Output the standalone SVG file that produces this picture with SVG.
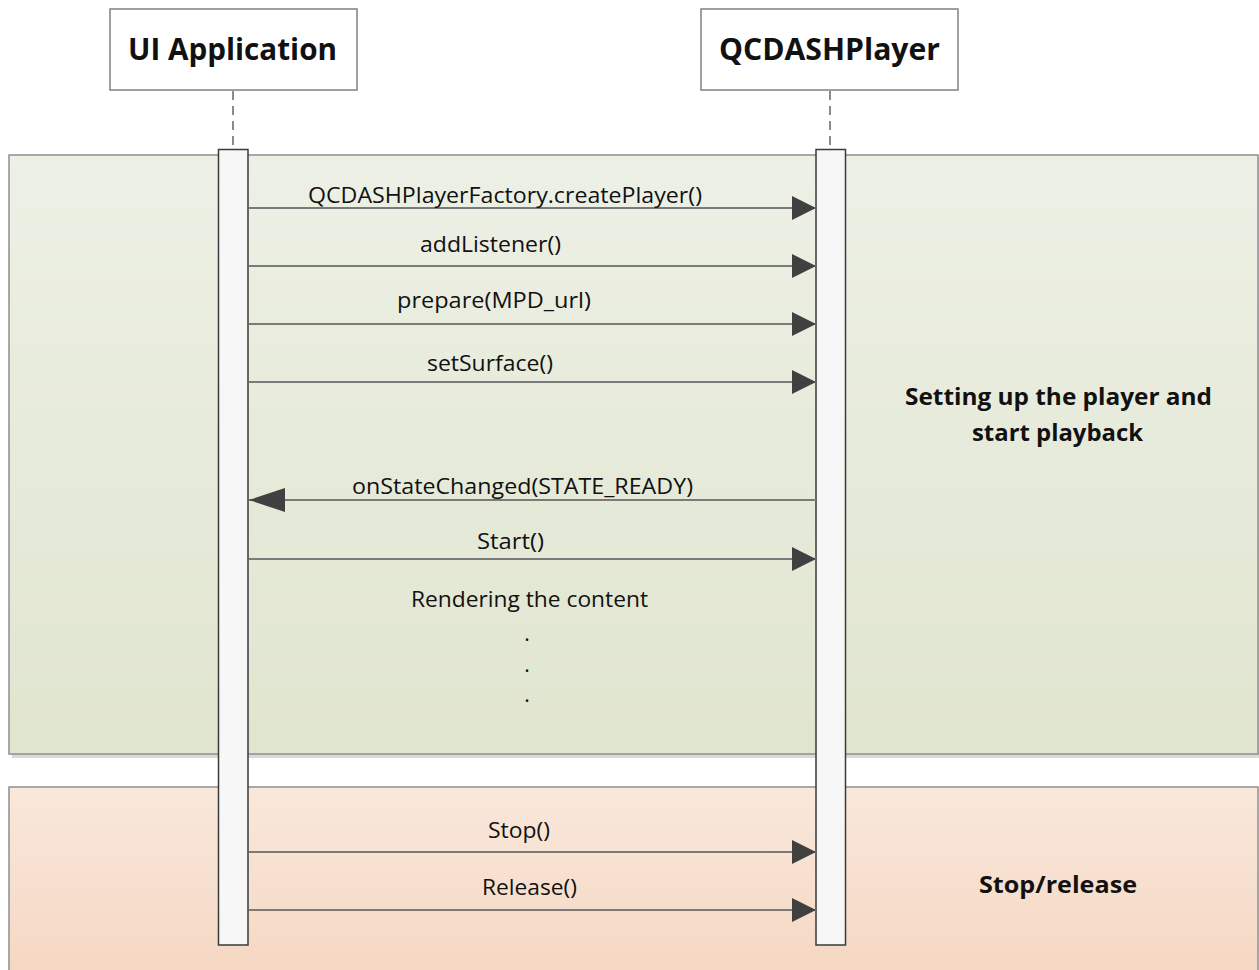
<svg xmlns="http://www.w3.org/2000/svg" width="1259" height="970" viewBox="0 0 1259 970">
<defs>
<linearGradient id="gGreen" x1="0" y1="0" x2="0" y2="1">
<stop offset="0" stop-color="#edf0e5"/>
<stop offset="1" stop-color="#e0e5cf"/>
</linearGradient>
<linearGradient id="gOrange" x1="0" y1="0" x2="0" y2="1">
<stop offset="0" stop-color="#f9e8dc"/>
<stop offset="1" stop-color="#f5d7c2"/>
</linearGradient>
<marker id="arrR" markerUnits="userSpaceOnUse" viewBox="0 0 24 24" refX="24" refY="12" markerWidth="24" markerHeight="24" orient="auto">
<path d="M0,0 L24,12 L0,24 Z" fill="#404040"/>
</marker>
<marker id="arrL" markerUnits="userSpaceOnUse" viewBox="0 0 36 24" refX="36" refY="12" markerWidth="36" markerHeight="24" orient="auto">
<path d="M0,0 L36,12 L0,24 Z" fill="#404040"/>
</marker>
</defs>
<style>
.panel{stroke:#8f8f8f;stroke-width:1.5}
.shadow{fill:#d9d9d9}
.hbox{fill:#ffffff;stroke:#808080;stroke-width:1.5}
.life{stroke:#8a8a8a;stroke-width:2;stroke-dasharray:9,6;fill:none}
.bar{fill:#f7f7f7;stroke:#3a3a3a;stroke-width:1.5}
.msg{stroke:#7a7a7a;stroke-width:2;fill:none}
.fwd{marker-end:url(#arrR)}
.back{marker-end:url(#arrL)}
.t{font-family:"Open Sans","Liberation Sans",sans-serif;font-size:21px;fill:#111;text-anchor:middle}
.h{font-family:"Open Sans","Liberation Sans",sans-serif;font-size:31px;font-weight:bold;fill:#111;text-anchor:middle}
.b{font-family:"Open Sans","Liberation Sans",sans-serif;font-size:23px;font-weight:bold;fill:#111;text-anchor:middle}
</style>
<rect width="1259" height="970" fill="#ffffff"/>

<g id="panel-setup">
<rect class="shadow" x="12" y="158" width="1250" height="600"/>
<rect class="panel" x="9" y="155" width="1249" height="599" fill="url(#gGreen)"/>
<text class="b" x="1058.5" y="405" textLength="307" lengthAdjust="spacingAndGlyphs">Setting up the player and</text>
<text class="b" x="1057.5" y="441" textLength="171" lengthAdjust="spacingAndGlyphs">start playback</text>
</g>

<g id="panel-stop">
<rect class="panel" x="9" y="787" width="1249" height="190" fill="url(#gOrange)"/>
<text class="b" x="1058" y="893" textLength="158" lengthAdjust="spacingAndGlyphs">Stop/release</text>
</g>

<g id="ui-application">
<rect class="hbox" x="110" y="9" width="247" height="81"/>
<text class="h" x="232.5" y="60" textLength="209" lengthAdjust="spacingAndGlyphs">UI Application</text>
<line class="life" x1="233" y1="91" x2="233" y2="149"/>
<rect class="bar" x="218.5" y="149.5" width="29.5" height="795.5"/>
</g>

<g id="qcdashplayer">
<rect class="hbox" x="701" y="9" width="257" height="81"/>
<text class="h" x="829.5" y="60" textLength="221" lengthAdjust="spacingAndGlyphs">QCDASHPlayer</text>
<line class="life" x1="830" y1="91" x2="830" y2="149"/>
<rect class="bar" x="816" y="149.5" width="29.5" height="795.5"/>
</g>

<g id="connectors">
<line class="msg fwd" x1="249" y1="208" x2="816" y2="208"/>
<line class="msg fwd" x1="249" y1="266" x2="816" y2="266"/>
<line class="msg fwd" x1="249" y1="324" x2="816" y2="324"/>
<line class="msg fwd" x1="249" y1="382" x2="816" y2="382"/>
<line class="msg back" x1="816" y1="500" x2="249" y2="500"/>
<line class="msg fwd" x1="249" y1="559" x2="816" y2="559"/>
<line class="msg fwd" x1="249" y1="852" x2="816" y2="852"/>
<line class="msg fwd" x1="249" y1="910" x2="816" y2="910"/>
</g>

<g id="labels">
<text class="t" x="505" y="203" textLength="394" lengthAdjust="spacingAndGlyphs">QCDASHPlayerFactory.createPlayer()</text>
<text class="t" x="490.5" y="252" textLength="141" lengthAdjust="spacingAndGlyphs">addListener()</text>
<text class="t" x="494" y="308" textLength="194" lengthAdjust="spacingAndGlyphs">prepare(MPD_url)</text>
<text class="t" x="490" y="371" textLength="126" lengthAdjust="spacingAndGlyphs">setSurface()</text>
<text class="t" x="522.5" y="494" textLength="341" lengthAdjust="spacingAndGlyphs">onStateChanged(STATE_READY)</text>
<text class="t" x="510.5" y="549" textLength="67" lengthAdjust="spacingAndGlyphs">Start()</text>
<text class="t" x="529.5" y="607" textLength="237" lengthAdjust="spacingAndGlyphs">Rendering the content</text>
<text class="t" x="527" y="641">.</text>
<text class="t" x="527" y="672">.</text>
<text class="t" x="527" y="702">.</text>
<text class="t" x="519" y="838" textLength="62" lengthAdjust="spacingAndGlyphs">Stop()</text>
<text class="t" x="529.5" y="895" textLength="95" lengthAdjust="spacingAndGlyphs">Release()</text>
</g>
</svg>
